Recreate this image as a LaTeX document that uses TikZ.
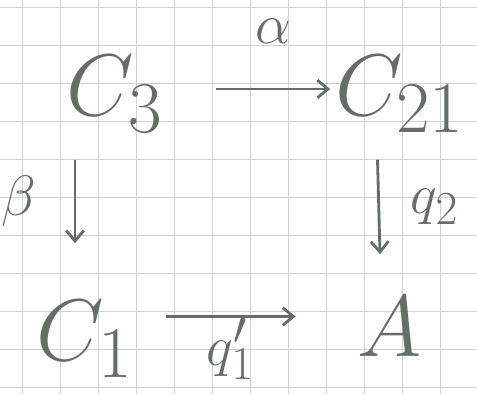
\documentclass[tikz,border=0pt]{standalone}
\usetikzlibrary{arrows.meta}
\definecolor{pencil}{RGB}{100,110,100}
\definecolor{paper}{RGB}{210,210,210}
\tikzset{
  obj/.style={pencil,font=\Huge,scale=2},
  lbl/.style={pencil,font=\Huge,scale=1.3},
  map/.style={pencil,line width=1.6pt,-{Straight Barb[length=6pt,width=10pt]}}
}
\begin{document}
\begin{tikzpicture}
\useasboundingbox (0,0) rectangle (9.54,7.88);
% squared paper
\draw[paper,line width=0.5pt,xshift=0.44cm,yshift=0.14cm] (-0.44,-0.14) grid[step=0.76] (9.5,7.9);
\node[obj] (C3) at (2.3,6.0) {$C_3$};
\node[obj] (C21) at (8.0,6.0) {$C_{21}$};
\node[obj] (C1) at (1.7,1.1) {$C_1$};
\node[obj] (A) at (7.8,1.35) {$A$};
\draw[map] ([xshift=0.8cm,yshift=0.1cm]C3.east) -- node[lbl,above=0.55cm]{$\alpha$} ([xshift=0.15cm,yshift=0.1cm]C21.west);
\draw[map] ([xshift=-0.8cm,yshift=-0.3cm]C3.south) -- node[lbl,left=0.45cm]{$\beta$} ([xshift=-0.2cm,yshift=0.9cm]C1.north);
\draw[map] ([xshift=-0.45cm,yshift=-0.3cm]C21.south) -- node[lbl,right=0.35cm]{$q_2$} ([xshift=-0.2cm,yshift=0.6cm]A.north);
\draw[map] ([xshift=0.4cm,yshift=0.45cm]C1.east) -- node[lbl,below=-0.12cm]{$q_1'$} ([xshift=-1.0cm,yshift=0.2cm]A.west);
\end{tikzpicture}
\end{document}
